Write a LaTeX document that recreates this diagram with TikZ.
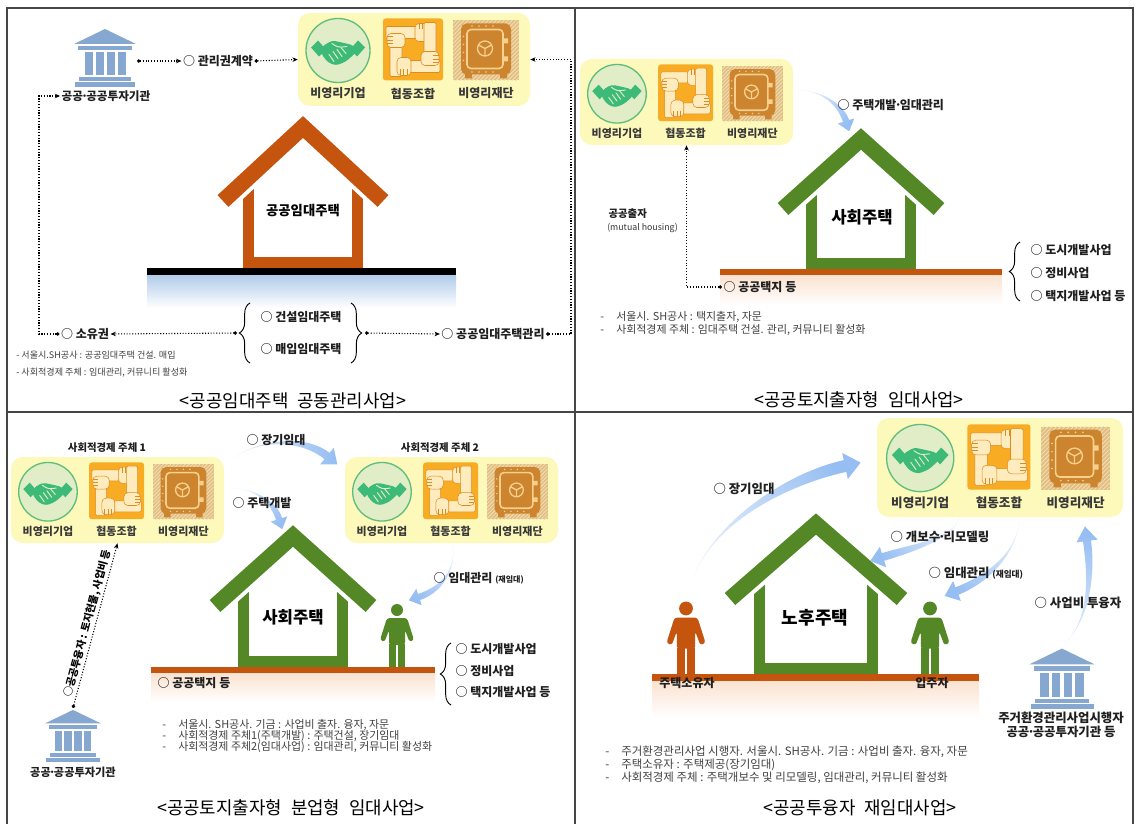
\documentclass[tikz,border=0pt]{standalone}
\usepackage{fontspec}
\setmainfont{Noto Sans CJK KR}
\usetikzlibrary{arrows.meta,calc,decorations.pathreplacing}

\definecolor{frame}{RGB}{70,70,70}
\definecolor{boxyellow}{RGB}{252,249,186}
\definecolor{hsfill}{RGB}{224,237,198}
\definecolor{hsline}{RGB}{96,190,124}
\definecolor{hsgreen}{RGB}{62,186,120}
\definecolor{coop}{RGB}{248,172,36}
\definecolor{coopdark}{RGB}{222,140,30}
\definecolor{cream}{RGB}{255,236,190}
\definecolor{safebg}{RGB}{226,190,130}
\definecolor{safestripe}{RGB}{242,222,180}
\definecolor{safebody}{RGB}{204,132,46}
\definecolor{safetrim}{RGB}{246,208,140}
\definecolor{bankblue}{RGB}{134,168,208}
\definecolor{brownroof}{RGB}{196,84,14}
\definecolor{greenhouse}{RGB}{84,136,38}
\definecolor{soilline}{RGB}{196,84,14}
\definecolor{soiltint}{RGB}{250,226,208}
\definecolor{skytint}{RGB}{176,204,234}
\definecolor{flowblue}{RGB}{150,190,242}
\definecolor{flowpale}{RGB}{226,237,252}

\newcommand\notedash{\makebox[12pt][l]{-}}
\newcommand\mdot{\makebox[0.28em][c]{·}}

% house: #1 centre x, #2 roof apex (centre line), #3 roof half span, #4 roof drop,
%        #5 wall half width, #6 ground y, #7 colour
\newcommand\drawhut[7]{%
  \pgfmathsetmacro\hutd{#5-5.5}%
  \pgfmathsetmacro\huttop{#2+#4*\hutd/#3}%
  \pgfmathsetmacro\hutbase{#6-5.5}%
  \draw[#7, line width=8.25pt, line join=miter] ({#1-\hutd},\huttop) -- ({#1-\hutd},\hutbase) -- ({#1+\hutd},\hutbase) -- ({#1+\hutd},\huttop);
  \draw[white, line width=18pt, line join=miter] ({#1-#3},{#2+#4}) -- (#1,#2) -- ({#1+#3},{#2+#4});
  \draw[#7, line width=12pt, line join=miter] ({#1-#3},{#2+#4}) -- (#1,#2) -- ({#1+#3},{#2+#4});
}

% tapered flow arrow: #1 start, #2 #3 controls, #4 head base, #5 body half width,
%                     #6 head half width, #7 head length, #8 shading angle
\newcommand\flowarrow[8]{%
  \shade[bottom color=flowpale, top color=flowblue, shading angle=#8]
    (#1) .. controls (#2) and ($(#3)!#5!90:(#4)$) .. ($(#4)!#5!-90:(#3)$)
    -- ($(#4)!#6!-90:(#3)$) -- ($(#4)!-#7!(#3)$) -- ($(#4)!#6!90:(#3)$)
    -- ($(#4)!#5!90:(#3)$) .. controls ($(#3)!#5!-90:(#4)$) and (#2) .. (#1) -- cycle;
}

\tikzset{
  orgbox/.style={fill=boxyellow, rounded corners=9pt, inner sep=0pt},
  orglbl/.style={font=\fontsize{9}{10}\selectfont\bfseries, text=black!78, inner sep=0pt},
  lbl/.style={font=\fontsize{9}{10}\selectfont\bfseries, text=black!88, inner sep=1pt},
  lblq/.style={lbl, font=\fontsize{9.3}{10.5}\selectfont\bfseries},
  smallb/.style={font=\fontsize{7.8}{9}\selectfont\bfseries, text=black!88, inner sep=1pt},
  tinytext/.style={font=\fontsize{6.6}{7.5}\selectfont, text=black!80, inner sep=0pt},
  note/.style={font=\fontsize{8.2}{9.5}\selectfont, text=black!75, anchor=west, inner sep=0pt},
  notesmall/.style={font=\fontsize{6.8}{8}\selectfont, text=black!75, anchor=west, inner sep=0pt},
  noteq/.style={note, font=\fontsize{8.6}{10}\selectfont},
  caption/.style={font=\fontsize{13.4}{15}\selectfont, inner sep=0pt},
  housetext/.style={font=\fontsize{10}{12}\selectfont\bfseries},
  bighouse/.style={font=\fontsize{12.5}{14}\selectfont\bfseries},
  rottext/.style={font=\fontsize{7.8}{9}\selectfont\bfseries, inner sep=1.5pt},
  dotcon/.style={line width=0.8pt, dash pattern=on 0.8pt off 1.3pt,
    {Circle[length=2.6pt]}-{Stealth[length=4pt,width=3.4pt]}},
  bracestyle/.style={decorate, decoration={brace, amplitude=8pt}, line width=0.7pt},
  orgicons/.pic={
    % handshake emblem
    \begin{scope}[shift={(-76,-9)}]
      \fill[hsfill] (0,0) circle (32);
      \draw[hsline, line width=1pt] (0,0) circle (32);
      \fill[hsgreen] (-27,-3) -- (-20,-10) -- (-12,-1) -- (-19,6) -- cycle;
      \fill[hsgreen] (27,-3) -- (20,-10) -- (12,-1) -- (19,6) -- cycle;
      \fill[hsgreen, rounded corners=2.5pt] (-16,-4) -- (-6,-10) -- (4,-8) -- (16,-5) -- (18,2) -- (8,11) -- (-2,15) -- (-10,12) -- (-17,3) -- cycle;
      \draw[hsfill, line width=0.7pt, line cap=round] (-9,4) -- (-4,11) (-5,1) -- (0,8) (-1,-1) -- (4,6) (3,-3) -- (8,3);
      \draw[hsfill, line width=0.7pt, line cap=round] (-6,-7) .. controls (0,-3) .. (9,-4);
    \end{scope}
    % four linked hands
    \begin{scope}[shift={(-1,-10)}]
      \fill[coop, rounded corners=2pt] (-30,-31) rectangle (30,31);
      \foreach \a in {0,90,180,270}{
        \begin{scope}[rotate=\a]
          \filldraw[fill=cream, draw=coopdark, line width=0.4pt, rounded corners=1pt] (-27,-23) rectangle (3,-11);
          \filldraw[fill=cream, draw=coopdark, line width=0.4pt, rounded corners=3pt] (2,-26) rectangle (16,-8);
          \draw[coopdark, line width=0.4pt] (6,-26) -- (6,-20) (9.5,-26) -- (9.5,-20) (13,-26) -- (13,-20);
        \end{scope}}
    \end{scope}
    % safe
    \begin{scope}[shift={(72,-9)}]
      \fill[safebg] (-33,-30) rectangle (33,30);
      \begin{scope}
        \clip (-33,-30) rectangle (33,30);
        \foreach \k in {-64,-60,...,64} \draw[safestripe, line width=0.6pt] (\k-32,32) -- (\k+32,-32);
      \end{scope}
      \fill[safebody] (-21,22) rectangle (-14,28) (14,22) rectangle (21,28);
      \fill[safebody, rounded corners=4pt] (-25,-27) rectangle (25,24);
      \draw[safetrim, line width=1.2pt, rounded corners=3pt] (-19,-21) rectangle (17,18);
      \foreach \t in {-14,-7,0,7} {\fill[safetrim] (\t,-24.5) circle (0.9); \fill[safetrim] (\t,21.5) circle (0.9);}
      \foreach \t in {-14,-6,2,10} {\fill[safetrim] (-22.5,\t) circle (0.9);}
      \fill[safetrim] (17,-12) rectangle (22,-7) (17,6) rectangle (22,11);
      \draw[safetrim, line width=1pt] (-1,-2) circle (7.5);
      \draw[safetrim, line width=1pt] (-1,-2) -- (-1,5.5) (-1,-2) -- (-7.5,-5.5) (-1,-2) -- (5.5,-5.5);
    \end{scope}
    \node[orglbl] at (-76,34) {비영리기업};
    \node[orglbl] at (-1,34) {협동조합};
    \node[orglbl] at (72,34) {비영리재단};
  },
  bank/.pic={
    \fill (0,-29) -- (31,-14) -- (-31,-14) -- cycle;
    \fill (-27,-12) rectangle (27,-8);
    \foreach \c in {-16.5,-5.5,5.5,16.5} \fill (\c-4,-6) rectangle (\c+4,17);
    \fill (-26,19) rectangle (26,23);
    \fill (-30,24) rectangle (30,29);
  },
  person/.pic={
    \fill (0,-57) circle (6);
    \fill[rounded corners=2pt] (-10,-49) -- (10,-49) -- (17,-27) -- (12.5,-25) -- (8,-37) -- (8,-22) -- (-8,-22) -- (-8,-37) -- (-12.5,-25) -- (-17,-27) -- cycle;
    \fill (-8,-23) rectangle (-1.2,0);
    \fill (1.2,-23) rectangle (8,0);
  },
}

\begin{document}
\begin{tikzpicture}[x=0.75pt,y=-0.75pt]
\useasboundingbox (0,0) rectangle (1135,824);
\fill[white] (0,0) rectangle (1135,824);

% ================= panel 1: joint management of public rental housing
\node[orgbox, minimum width=174pt, minimum height=69.75pt] (org1) at (414,59.5) {};
\pic at (org1.center) {orgicons};
\pic[color=bankblue] at (105,58) {bank};
\node[smallb, font=\fontsize{8.7}{10}\selectfont\bfseries] (pub1) at (106,96) {공공\mdot 공공투자기관};
\coordinate (bank1e) at (137,61);
\node[lbl] (lease1) at (218,61) {○ 관리권계약};
\shade[top color=skytint, bottom color=white] (147,275) rectangle (456,308);
\drawhut{303}{127}{80}{74}{60}{268}{brownroof}
\fill[black] (147,268) rectangle (456,275);
\node[housetext] (h1) at (303,211) {공공임대주택};
\node[lbl] (build1) at (301,317) {○ 건설임대주택};
\node[lbl] (buy1) at (301,349) {○ 매입임대주택};
\draw[bracestyle] (250,363) -- (250,303);
\draw[bracestyle] (351,303) -- (351,363);
\coordinate (bl1) at (237,333);
\coordinate (br1) at (365,333);
\node[lbl] (own1) at (85,334) {○ 소유권};
\node[lbl] (mgmt1) at (493,334) {○ 공공임대주택관리};
\draw[dotcon] (bank1e) -- (lease1.west);
\draw[dotcon] (lease1.east) -- (org1.west);
\draw[dotcon] (own1.west) -| (39,96) -- (pub1.west);
\draw[dotcon] (bl1) -- (own1.east);
\draw[dotcon] (br1) -- (mgmt1.west);
\draw[dotcon] (mgmt1.east) -| (571,59.5) -- (org1.east);
\node[notesmall] (n1a) at (16,355) {- 서울시.SH공사 : 공공임대주택 건설. 매입};
\node[notesmall] (n1b) at (16,373) {- 사회적경제 주체 : 임대관리, 커뮤니티 활성화};
\node[caption] (cap1) at (293,401) {<공공임대주택\hspace{0.5em}공동관리사업>};

% ================= panel 2: public land contribution rental
\node[orgbox, minimum width=159.75pt, minimum height=64.5pt] (org2) at (686.5,102) {};
\pic[scale=0.915, transform shape] at (org2.center) {orgicons};
\shade[top color=soiltint, bottom color=white] (720,275) rectangle (1002,305);
\drawhut{861}{139}{78}{70}{55}{269}{greenhouse}
\fill[soilline] (720,269) rectangle (1002,275);
\node[bighouse] (h2) at (862,217) {사회주택};
\flowarrow{798,90}{826,91}{842,108}{846,121}{2.4pt}{6.5pt}{8pt}{-130}
\node[lbl, anchor=west] (dev2) at (836,105) {○ 주택개발\mdot 임대관리};
\node[lbl, anchor=west] (land2) at (722,287) {○ 공공택지 등};
\draw[dotcon] (land2.west) -| (org2.south);
\node[smallb, anchor=west] (inv2) at (607,214) {공공출자};
\node[tinytext, anchor=west] (mh2) at (607,228) {(mutual housing)};
\draw[bracestyle] (1020,301) -- (1020,242);
\node[lbl, anchor=west] (u2) at (1029,250) {○ 도시개발사업};
\node[lbl, anchor=west] (r2) at (1029,273) {○ 정비사업};
\node[lbl, anchor=west] (t2) at (1029,296) {○ 택지개발사업 등};
\node[note] (n2a) at (600,317) {\notedash 서울시. SH공사 : 택지출자, 자문};
\node[note] (n2b) at (600,330) {\notedash 사회적경제 주체 : 임대주택 건설. 관리, 커뮤니티 활성화};
\node[caption] (cap2) at (859,400) {<공공토지출자형\hspace{0.5em}임대사업>};

% ================= panel 3: divided-role rental on public land
\node[smallb] (se1) at (107,448) {사회적경제 주체 1};
\node[orgbox, minimum width=159.75pt, minimum height=64.5pt] (org3a) at (117.5,500) {};
\pic[scale=0.915, transform shape] at (org3a.center) {orgicons};
\node[smallb] (se2) at (440,448) {사회적경제 주체 2};
\node[orgbox, minimum width=159.75pt, minimum height=64.5pt] (org3b) at (451.5,500) {};
\pic[scale=0.915, transform shape] at (org3b.center) {orgicons};
\shade[top color=soiltint, bottom color=white] (151,673) rectangle (435,702);
\drawhut{293}{536}{78}{70}{55}{667}{greenhouse}
\pic[color=greenhouse] at (397,667) {person};
\fill[soilline] (151,667) rectangle (435,673);
\node[bighouse] (h3) at (293,617) {사회주택};
\flowarrow{233,458}{262,438}{305,438}{327,456}{3pt}{8pt}{10pt}{-93}
\node[lbl] (lt3) at (276,440) {○ 장기임대};
\flowarrow{233,488}{258,490}{274,503}{279,519}{2.4pt}{6.5pt}{8pt}{-131}
\node[lbl] (dv3) at (262,503) {○ 주택개발};
\flowarrow{453,545}{456,572}{440,590}{419,597}{2.4pt}{6.5pt}{8pt}{-218}
\node[lbl, anchor=west] (rm3) at (432,578) {○ 임대관리 {\fontsize{6}{7}\selectfont (재임대)}};
\draw[bracestyle] (451,705) -- (451,643);
\node[lbl, anchor=west] (u3) at (454,649) {○ 도시개발사업};
\node[lbl, anchor=west] (r3) at (454,671) {○ 정비사업};
\node[lbl, anchor=west] (t3) at (454,692) {○ 택지개발사업 등};
\node[lbl, anchor=west] (land3) at (156,683) {○ 공공택지 등};
\pic[color=bankblue, scale=0.9] at (73,736) {bank};
\node[smallb, font=\fontsize{8.4}{10}\selectfont\bfseries] (pub3) at (73,772) {공공\mdot 공공투자기관};
\coordinate (bank3n) at (73,708);
\draw[dotcon] (bank3n) -- node[sloped, above, rottext] {○공공투융자 : 토지현물, 사업비 등} (org3a.south);
\node[note] (n3a) at (162,725) {\notedash 서울시. SH공사. 기금 : 사업비 출자. 융자, 자문};
\node[note] (n3b) at (162,736) {\notedash 사회적경제 주체1(주택개발) : 주택건설, 장기임대};
\node[note] (n3c) at (162,747) {\notedash 사회적경제 주체2(임대사업) : 임대관리, 커뮤니티 활성화};
\node[caption] (cap3) at (291,808) {<공공토지출자형\hspace{0.5em}분업형\hspace{0.5em}임대사업>};

% ================= panel 4: public financing sublease
\node[orgbox, minimum width=184.5pt, minimum height=74.25pt] (org4) at (1000,467.5) {};
\pic[scale=1.05, transform shape] at (org4.center) {orgicons};
\shade[top color=soiltint, bottom color=white] (652,681) rectangle (979,717);
\drawhut{816}{524}{86}{75}{62}{674}{greenhouse}
\pic[color=brownroof, scale=1.15] at (686,674) {person};
\pic[color=greenhouse, scale=1.15] at (930,674) {person};
\fill[soilline] (652,674) rectangle (979,681);
\node[bighouse, font=\fontsize{13.5}{15}\selectfont\bfseries] (h4) at (815,618) {노후주택};
\node[lbl] (own4) at (687,683) {주택소유자};
\node[lbl] (ten4) at (932,683) {입주자};
\flowarrow{693,578}{715,520}{790,478}{845,466}{4.5pt}{10pt}{12pt}{-56}
\node[lblq] (lt4) at (744,489) {○ 장기임대};
\flowarrow{960,518}{950,540}{912,548}{883,557}{3pt}{8pt}{10pt}{-244}
\node[lblq] (rm4) at (940,537) {○ 개보수\mdot 리모델링};
\flowarrow{1020,519}{1016,556}{985,580}{957,591}{3pt}{8pt}{10pt}{-224}
\node[lblq, anchor=west] (ls4) at (927,573) {○ 임대관리 {\fontsize{6.5}{7}\selectfont (재임대)}};
\flowarrow{1062,646}{1092,620}{1091,570}{1087,541}{3pt}{8pt}{11pt}{-12}
\node[lblq] (fin4) at (1078,603) {○ 사업비 투융자};
\pic[color=bankblue, scale=1.05] at (1062,679) {bank};
\node[lblq, align=center, font=\fontsize{9.3}{10.5}\selectfont\bfseries] (pub4) at (1061,725) {주거환경관리사업시행자\\공공\mdot 공공투자기관 등};
\node[noteq] (n4a) at (605,752) {\notedash 주거환경관리사업 시행자. 서울시. SH공사. 기금 : 사업비 출자. 융자, 자문};
\node[noteq] (n4b) at (605,765) {\notedash 주택소유자 : 주택제공(장기임대)};
\node[noteq] (n4c) at (605,778) {\notedash 사회적경제 주체 : 주택개보수 및 리모델링, 임대관리, 커뮤니티 활성화};
\node[caption] (cap4) at (860,808) {<공공투융자\hspace{0.5em}재임대사업>};

% ================= panel frame
\draw[frame, line width=1.2pt] (7,8) rectangle (1133,827);
\draw[frame, line width=1.2pt] (575,8) -- (575,827);
\draw[frame, line width=1.2pt] (7,412) -- (1133,412);
\end{tikzpicture}
\end{document}
